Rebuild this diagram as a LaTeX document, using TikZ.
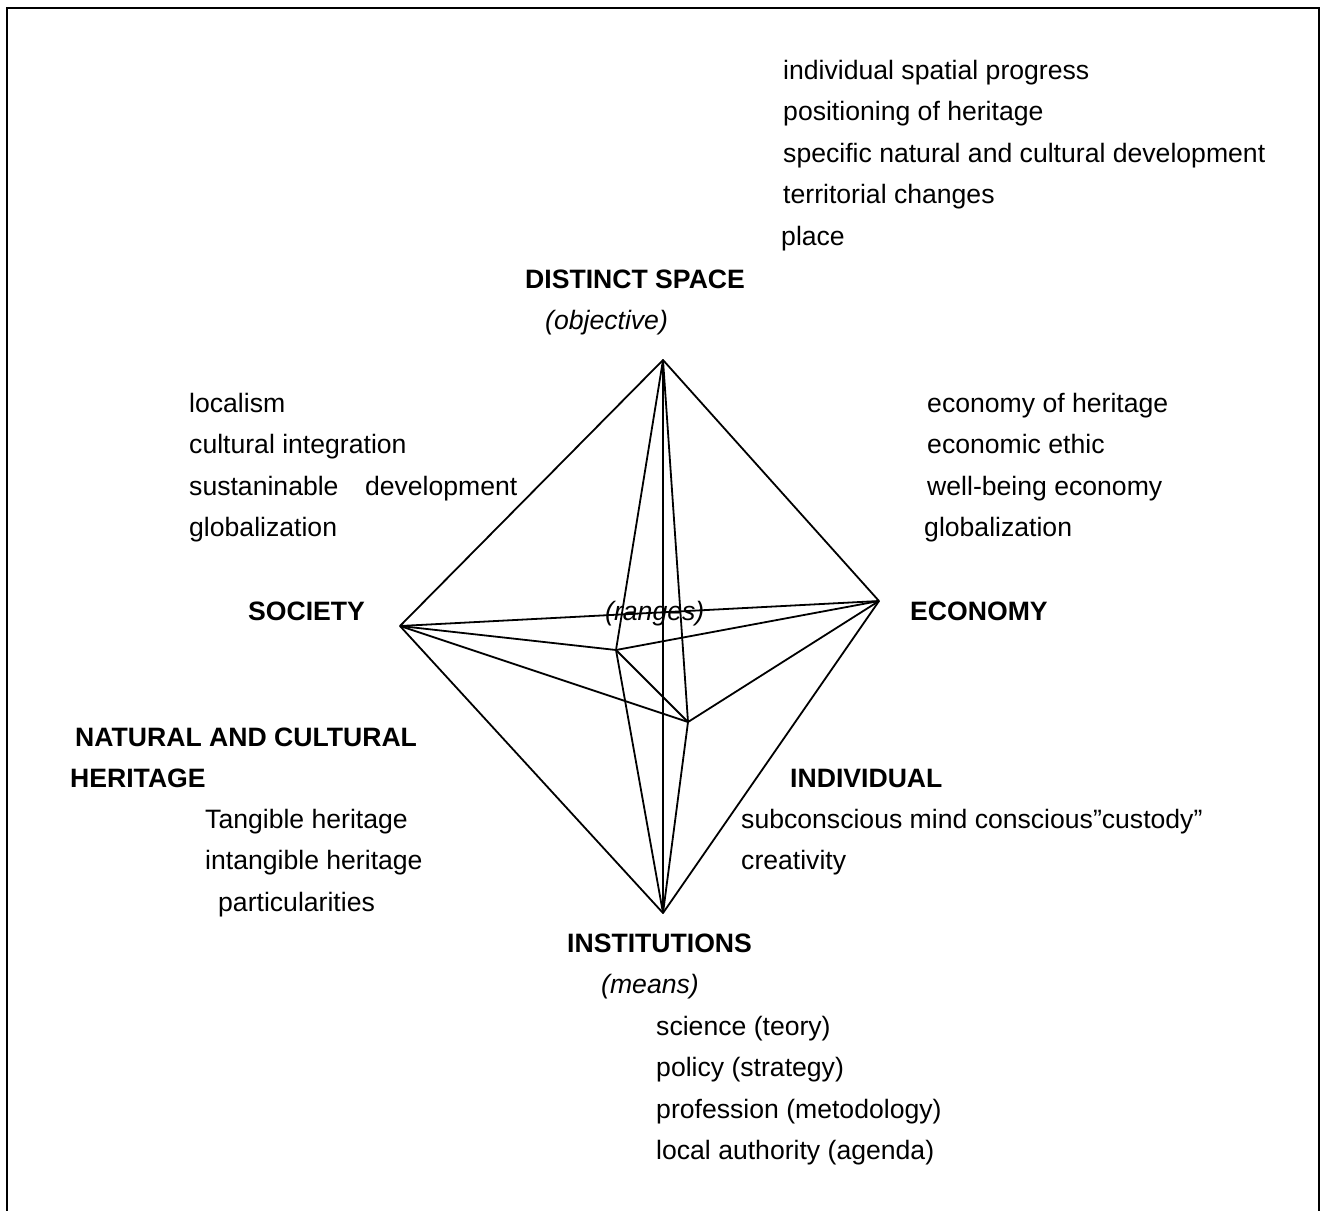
\documentclass[tikz,border=0pt]{standalone}
\usepackage{fontspec}
\setmainfont{Liberation Sans}
\begin{document}
\begin{tikzpicture}[x=1pt,y=-1pt,
  txt/.style={anchor=base west,inner sep=0pt,font=\fontsize{26.6}{30}\selectfont},
  hd/.style={txt,font=\fontsize{26.6}{30}\selectfont\bfseries},
  it/.style={txt,font=\fontsize{26.6}{30}\selectfont\itshape},
  edge/.style={line width=1.8pt,line join=round}]
\useasboundingbox (0,0) rectangle (1321,1210);
\begin{scope}
\clip (0,0) rectangle (1321,1210);
\draw[line width=2pt] (7,1230) -- (7,7.5) -- (1318.7,7.5) -- (1318.7,1230);
\end{scope}
% vertices
\coordinate (T) at (663,360);
\coordinate (L) at (400,626);
\coordinate (R) at (879,601);
\coordinate (B) at (663,913);
\coordinate (P1) at (616,650);
\coordinate (P2) at (688,722);
% texts
\node[txt] (s1) at (783,79) {individual spatial progress};
\node[txt] (s2) at (783,120.5) {positioning of heritage};
\node[txt] (s3) at (783,162) {specific natural and cultural development};
\node[txt] (s4) at (783,203.5) {territorial changes};
\node[txt] (s5) at (781,245) {place};
\node[hd] (ds) at (525,288) {DISTINCT SPACE};
\node[it] (obj) at (545,329) {(objective)};
\node[txt] (l1) at (189,412) {localism};
\node[txt] (l2) at (189,453.5) {cultural integration};
\node[txt] (l3) at (189,495) {sustaninable\hspace{0.72em} development};
\node[txt] (l4) at (189,536.5) {globalization};
\node[txt] (r1) at (927,412) {economy of heritage};
\node[txt] (r2) at (927,453.5) {economic ethic};
\node[txt] (r3) at (927,495) {well-being economy};
\node[txt] (r4) at (924,536.5) {globalization};
\node[hd] (soc) at (248,620) {SOCIETY};
\node[it] (rng) at (605,620) {(ranges)};
\node[hd] (eco) at (910,620) {ECONOMY};
\node[hd] (nat1) at (75,746) {NATURAL AND CULTURAL};
\node[hd] (nat2) at (70,787) {HERITAGE};
\node[txt] (h1) at (205,828) {Tangible heritage};
\node[txt] (h2) at (205,869.5) {intangible heritage};
\node[txt] (h3) at (218,911) {particularities};
\node[hd] (ind) at (790,787) {INDIVIDUAL};
\node[txt] (i1) at (741,828) {subconscious mind conscious”custody”};
\node[txt] (i2) at (741,869.5) {creativity};
\node[hd] (ins) at (567,952) {INSTITUTIONS};
\node[it] (mea) at (601,993) {(means)};
\node[txt] (m1) at (656,1035) {science (teory)};
\node[txt] (m2) at (656,1076.5) {policy (strategy)};
\node[txt] (m3) at (656,1118) {profession (metodology)};
\node[txt] (m4) at (656,1159.5) {local authority (agenda)};
% diagram edges
\draw[edge] (T) -- (R) -- (B) -- (L) -- cycle;
\draw[edge] (T) -- (B);
\draw[edge] (L) -- (R);
\draw[edge] (T) -- (P1) -- (B);
\draw[edge] (T) -- (P2) -- (B);
\draw[edge] (L) -- (P1) -- (R);
\draw[edge] (L) -- (P2) -- (R);
\draw[edge] (P1) -- (P2);
\end{tikzpicture}
\end{document}
